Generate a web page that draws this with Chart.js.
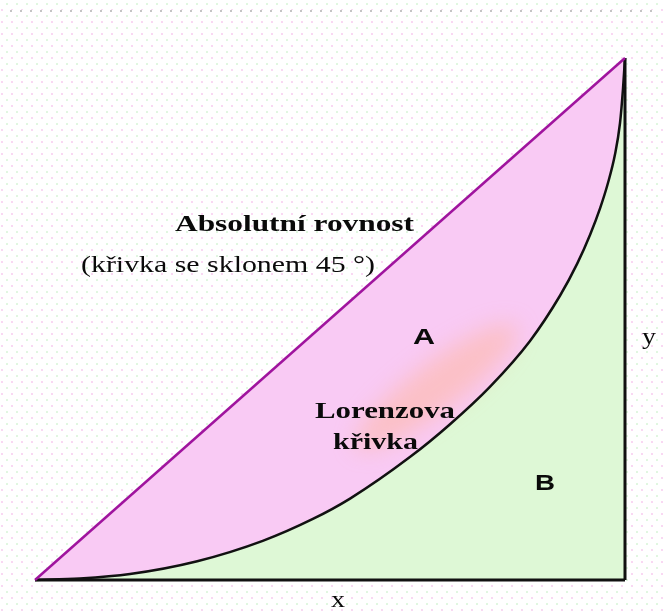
<!DOCTYPE html>
<html>
<head>
<meta charset="utf-8">
<script src="https://cdn.jsdelivr.net/npm/chart.js@4.4.0/dist/chart.umd.min.js"></script>
<style>
  html, body { margin: 0; padding: 0; }
  body {
    width: 665px; height: 614px; position: relative; overflow: hidden;
    background-color: #fff;
    background-image:
      radial-gradient(circle, rgba(245, 190, 235, 0.6) 0.9px, transparent 1.3px),
      radial-gradient(circle, rgba(200, 240, 200, 0.55) 0.9px, transparent 1.3px);
    background-size: 10px 12px, 10px 12px;
    background-position: 7px 16px, 2px 22px;
  }
  #topdots {
    position: absolute; left: 10px; top: 10px; width: 646px; height: 2px;
    background: repeating-linear-gradient(to right, #c4c4c4 0 2px, #fff 2px 10px);
  }
  #wrap { position: absolute; left: 0; top: 0; width: 665px; height: 614px; }
</style>
</head>
<body>
<div id="topdots"></div>
<div id="wrap"><canvas id="lorenz" width="665" height="614"></canvas></div>
<script>
// Lorenz curve (share of population on x, share of income on y, in %)
const lorenzX = [0, 7.6, 16.1, 27.5, 38.6, 47.1, 53.4, 63.6, 70.3, 77.1, 83.9, 89.0, 91.9, 94.1, 95.8, 97.1, 98.3, 99.15, 99.66, 100];
const lorenzY = [0, 0.3, 1.15, 3.6, 7.5, 11.7, 15.6, 23.6, 29.8, 37.0, 45.8, 54.5, 60.6, 66.2, 71.3, 76.0, 81.5, 87.5, 94.1, 100];

// line of absolute equality (45 degrees)
const equalityX = [0, 100];
const equalityY = [0, 100];

// frame: bottom axis and right edge
const bottomX = [0, 100];
const bottomY = [0, 0];
const rightX = [100, 100];
const rightY = [0, 100];

function toPoints(xs, ys) {
    return xs.map((x, i) => ({ x: x, y: ys[i] }));
}

// text labels: pixel position (left, baseline), width they are stretched to
const labels = [
    { text: 'Absolutní rovnost', x: 175, y: 231, w: 239, font: 'bold 24px "Liberation Serif"' },
    { text: '(křivka se sklonem 45 °)', x: 81, y: 272, w: 294, font: '23px "Liberation Serif"' },
    { text: 'A', x: 413, y: 344, w: 22, font: 'bold 22px "Liberation Sans"' },
    { text: 'Lorenzova', x: 315, y: 418, w: 140, font: 'bold 23px "Liberation Serif"' },
    { text: 'křivka', x: 333, y: 449, w: 85, font: 'bold 23px "Liberation Serif"' },
    { text: 'B', x: 535, y: 490, w: 20, font: 'bold 22px "Liberation Sans"' },
    { text: 'y', x: 642, y: 344, w: 14, font: '24px "Liberation Serif"' },
    { text: 'x', x: 331, y: 607, w: 14, font: '24px "Liberation Serif"' }
];

// orange smudge inside area A
const smudge = { x: 68, y: 37, rx: 100, ry: 24, angle: -37 };

const decorPlugin = {
    id: 'decor',
    beforeDatasetsDraw(chart) {
        const ctx = chart.ctx;
        const xs = chart.scales.x, ys = chart.scales.y;
        ctx.save();
        // keep the smudge inside the triangle under the diagonal
        ctx.beginPath();
        ctx.moveTo(xs.getPixelForValue(0), ys.getPixelForValue(0));
        ctx.lineTo(xs.getPixelForValue(100), ys.getPixelForValue(100));
        ctx.lineTo(xs.getPixelForValue(100), ys.getPixelForValue(0));
        ctx.closePath();
        ctx.clip();
        ctx.filter = 'blur(11px)';
        ctx.fillStyle = 'rgba(255, 178, 135, 0.42)';
        ctx.beginPath();
        ctx.ellipse(xs.getPixelForValue(smudge.x), ys.getPixelForValue(smudge.y),
            smudge.rx, smudge.ry, smudge.angle * Math.PI / 180, 0, Math.PI * 2);
        ctx.fill();
        ctx.restore();
    },
    afterDatasetsDraw(chart) {
        const ctx = chart.ctx;
        ctx.save();
        ctx.fillStyle = '#0a0a0a';
        ctx.textBaseline = 'alphabetic';
        labels.forEach(l => {
            ctx.font = l.font;
            const m = ctx.measureText(l.text).width;
            ctx.save();
            ctx.translate(l.x, l.y);
            ctx.scale(l.w / m, 1);
            ctx.fillText(l.text, 0, 0);
            ctx.restore();
        });
        ctx.restore();
    }
};

const ctx = document.getElementById('lorenz').getContext('2d');
const lorenzChart = new Chart(ctx, {
    type: 'line',
    data: {
        datasets: [
            {
                label: 'Absolutní rovnost',
                data: toPoints(equalityX, equalityY),
                borderColor: '#a0149e',
                borderWidth: 2.5,
                backgroundColor: 'rgb(249, 202, 244)',
                fill: '+1',
                pointRadius: 0,
                clip: false
            },
            {
                label: 'Lorenzova křivka',
                data: toPoints(lorenzX, lorenzY),
                borderColor: '#111',
                borderWidth: 2.5,
                backgroundColor: 'rgb(222, 248, 214)',
                fill: 'origin',
                cubicInterpolationMode: 'monotone',
                pointRadius: 0,
                clip: false
            },
            {
                label: 'x',
                data: toPoints(bottomX, bottomY),
                borderColor: '#111',
                borderWidth: 3,
                fill: false,
                pointRadius: 0,
                clip: false
            },
            {
                label: 'y',
                data: toPoints(rightX, rightY),
                borderColor: '#111',
                borderWidth: 3,
                fill: false,
                pointRadius: 0,
                clip: false
            }
        ]
    },
    options: {
        responsive: false,
        animation: false,
        layout: { padding: { left: 35, right: 40, top: 58, bottom: 34 } },
        scales: {
            x: { type: 'linear', min: 0, max: 100, display: false },
            y: { type: 'linear', min: 0, max: 100, display: false }
        },
        plugins: {
            legend: { display: false },
            tooltip: { enabled: false },
            filler: { drawTime: 'beforeDatasetsDraw' }
        }
    },
    plugins: [decorPlugin]
});
</script>
</body>
</html>
